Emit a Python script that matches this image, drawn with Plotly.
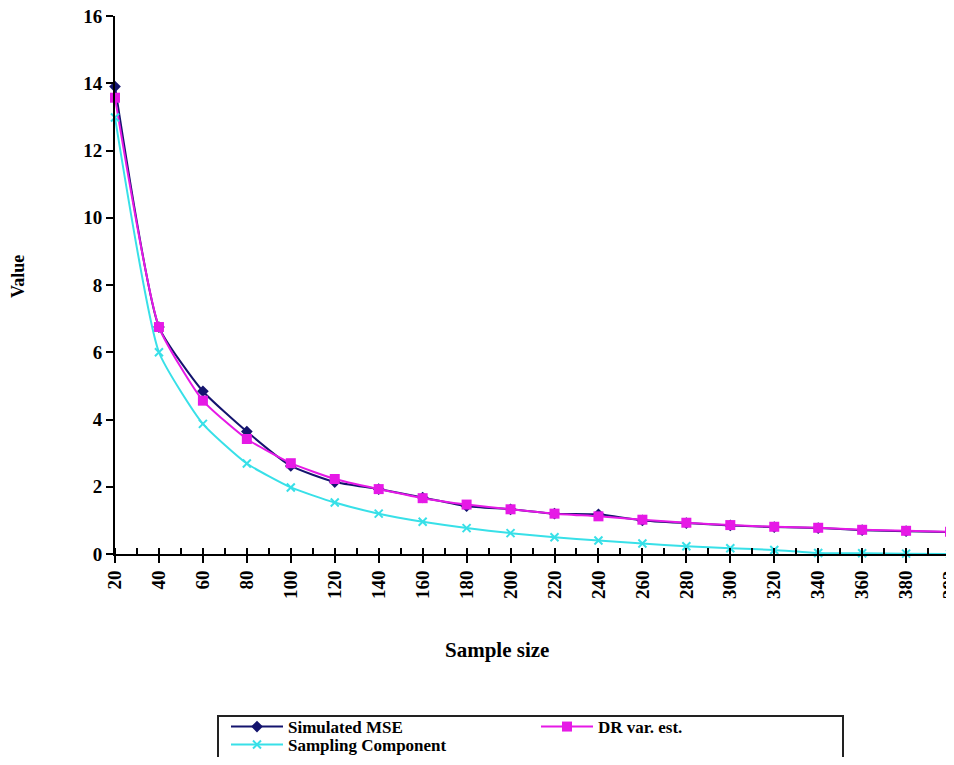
import plotly.graph_objects as go

sample_labels = ["20", "40", "60", "80", "100", "120", "140", "160", "180", "200",
                 "220", "240", "260", "280", "300", "320", "340", "360", "380", "393"]
simulated_mse = [13.9, 6.75, 4.84, 3.64, 2.62, 2.14, 1.93, 1.68, 1.42, 1.33,
                 1.2, 1.18, 1.0, 0.92, 0.85, 0.8, 0.77, 0.71, 0.68, 0.65]
dr_var_est = [13.57, 6.75, 4.56, 3.42, 2.7, 2.23, 1.93, 1.66, 1.47, 1.33,
              1.2, 1.12, 1.02, 0.93, 0.86, 0.81, 0.78, 0.72, 0.69, 0.66]
sampling_comp = [12.98, 6.0, 3.87, 2.69, 1.98, 1.53, 1.2, 0.96, 0.77, 0.62,
                 0.5, 0.4, 0.31, 0.23, 0.17, 0.12, 0.03, 0.02, 0.01, 0.0]
y_ticks = [0, 2, 4, 6, 8, 10, 12, 14, 16]

x_pos = list(range(len(sample_labels)))
FONT = "Liberation Serif, Times New Roman, serif"

# The page body adds an 8px margin, so the figure is made 16px smaller and
# all target page positions are shifted by OFF.
OFF = 8
FIG_W, FIG_H = 954 - OFF, 765 - 2 * OFF
# plot-area geometry in page pixels
PL, PT, PR, PB = 115, 16, 954, 554
L, T = PL - OFF, PT - OFF
W, H = PR - PL, PB - PT


def px(xp):
    return (xp - PL) / W


def py(yp):
    return (PB - yp) / H


fig = go.Figure()
fig.add_trace(go.Scatter(
    x=x_pos, y=simulated_mse, name="<b>Simulated MSE</b>", mode="lines+markers",
    line=dict(color="#14146e", width=2, shape="spline", smoothing=0.5),
    marker=dict(symbol="diamond", size=9, color="#14146e"), cliponaxis=False,
    legend="legend"))
fig.add_trace(go.Scatter(
    x=x_pos, y=dr_var_est, name="<b>DR var. est.</b>", mode="lines+markers",
    line=dict(color="#e619e6", width=2, shape="spline", smoothing=0.5),
    marker=dict(symbol="square", size=10, color="#e619e6"), cliponaxis=False,
    legend="legend"))
fig.add_trace(go.Scatter(
    x=x_pos, y=sampling_comp, name="<b>Sampling Component</b>", mode="lines+markers",
    line=dict(color="#38e0e8", width=2, shape="spline", smoothing=0.5),
    marker=dict(symbol="x-thin", size=8, color="#38e0e8",
                line=dict(color="#38e0e8", width=2)), cliponaxis=False,
    legend="legend2"))

leg_common = dict(
    orientation="h", xanchor="left", yanchor="top",
    bgcolor="rgba(0,0,0,0)", borderwidth=0,
    entrywidth=243, entrywidthmode="pixels", itemwidth=52,
    font=dict(family=FONT, size=17, color="black"),
    tracegroupgap=0, traceorder="normal",
)

fig.update_layout(
    width=FIG_W, height=FIG_H,
    margin=dict(l=L, r=FIG_W - L - W, t=T, b=FIG_H - T - H, autoexpand=False),
    paper_bgcolor="white", plot_bgcolor="white",
    font=dict(family=FONT, size=16, color="black"),
    showlegend=True,
    legend=dict(x=px(226), y=py(709), **leg_common),
    legend2=dict(x=px(226), y=py(727), **leg_common),
    xaxis=dict(
        range=[0, 19.09], tickmode="array", tickvals=x_pos,
        ticktext=["<b>%s</b>" % s for s in sample_labels],
        tickangle=-90, ticks="outside", ticklen=7, tickwidth=2, tickcolor="black",
        showline=True, linecolor="black", linewidth=2, showgrid=False, zeroline=False,
        automargin=False, ticklabeloverflow="allow",
        tickfont=dict(family=FONT, size=19, color="black"),
        minor=dict(dtick=0.5, tick0=0.5, ticks="inside", ticklen=6, tickwidth=2,
                   tickcolor="black", showgrid=False),
    ),
    yaxis=dict(
        range=[0, 16], tickmode="array", tickvals=y_ticks,
        ticktext=["<b>%d</b>" % v for v in y_ticks],
        ticks="outside", ticklen=7, tickwidth=2, tickcolor="black",
        showline=True, linecolor="black", linewidth=2, showgrid=False, zeroline=False,
        automargin=False, ticklabeloverflow="allow",
        tickfont=dict(family=FONT, size=19, color="black"),
    ),
    annotations=[
        dict(text="<b>Value</b>", xref="paper", yref="paper", x=px(18), y=py(277),
             showarrow=False, textangle=-90, font=dict(family=FONT, size=18, color="black"),
             xanchor="center", yanchor="middle"),
        dict(text="<b>Sample size</b>", xref="paper", yref="paper", x=px(497), y=py(650),
             showarrow=False, font=dict(family=FONT, size=21, color="black"),
             xanchor="center", yanchor="middle"),
    ],
    shapes=[
        dict(type="rect", xref="paper", yref="paper",
             x0=px(218), x1=px(843), y0=py(790), y1=py(716),
             line=dict(color="#222222", width=2), fillcolor="rgba(0,0,0,0)", layer="above"),
    ],
)

fig.write_html("out.html")
